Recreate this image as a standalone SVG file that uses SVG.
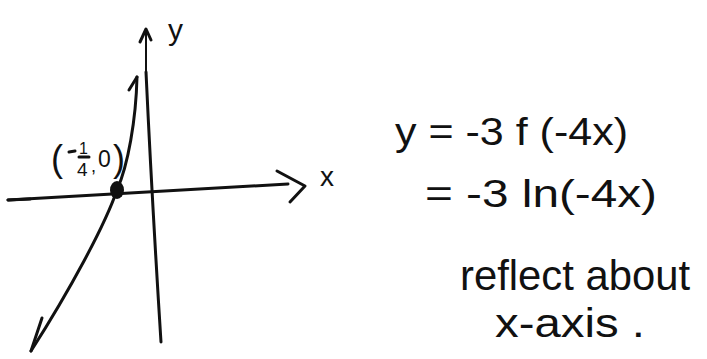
<svg xmlns="http://www.w3.org/2000/svg" width="707" height="359" viewBox="0 0 707 359">
<style>
.ink{fill:none;stroke:#111;stroke-width:3;stroke-linecap:round;stroke-linejoin:round}
.thin{fill:none;stroke:#111;stroke-width:2;stroke-linecap:round}
.t{font-family:"Liberation Sans","DejaVu Sans",sans-serif;fill:#111}
</style>
<rect width="707" height="359" fill="#fff"/>
<g id="axes">
  <g id="y-axis">
    <path class="thin" d="M146,30 L146,72"/>
    <path class="ink" d="M146,72 Q152,200 161,342"/>
    <path class="ink" d="M140,42 L146,29 L151,40"/>
    <text class="t" x="168" y="40" font-size="30">y</text>
  </g>
  <g id="x-axis">
    <path class="ink" d="M8,200 L288,184"/>
    <path class="ink" stroke-width="4" d="M8,200 L30,199"/>
    <path class="ink" d="M277,171 L305,186 L290,202"/>
    <text class="t" x="320" y="186" font-size="28">x</text>
  </g>
</g>
<g id="curve">
  <path class="ink" d="M137,77 C136,120 128,165 117,190 C105,225 70,290 31,351"/>
  <path class="ink" d="M137,77 L129,90"/>
  <path class="ink" d="M31,351 L42,318"/>
</g>
<g id="intercept">
  <ellipse cx="117" cy="190" rx="7" ry="9" fill="#111"/>
  <text class="t" x="51" y="171" font-size="36">(</text>
  <path class="ink" d="M69,152 L75,151"/>
  <text class="t" x="79" y="154" font-size="16">1</text>
  <path class="ink" d="M79,157 L89,157"/>
  <text class="t" x="77" y="176" font-size="19">4</text>
  <text class="t" x="91" y="172" font-size="18">,</text>
  <text class="t" x="98" y="167" font-size="23">0</text>
  <text class="t" x="113" y="171" font-size="36">)</text>
</g>
<g id="equation">
  <text class="t" x="395" y="145" font-size="38" textLength="233" lengthAdjust="spacingAndGlyphs">y = -3 f (-4x)</text>
  <text class="t" x="425" y="207" font-size="38" textLength="232" lengthAdjust="spacingAndGlyphs">= -3 ln(-4x)</text>
  <text class="t" x="460" y="290" font-size="42" textLength="230" lengthAdjust="spacingAndGlyphs">reflect about</text>
  <text class="t" x="495" y="337" font-size="40" textLength="150" lengthAdjust="spacingAndGlyphs">x-axis .</text>
</g>
</svg>
